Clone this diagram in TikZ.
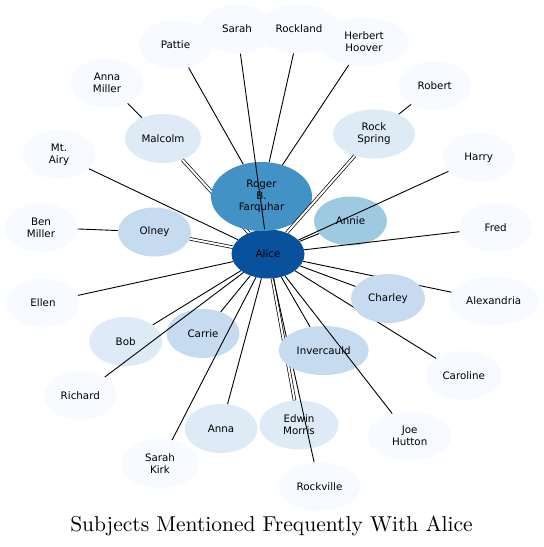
\documentclass[tikz,border=0pt]{standalone}
\usepackage{fontspec}
\newfontfamily\labelfont{DejaVu Sans}
\newfontfamily\titlefont{lmroman10-regular}[Extension=.otf]
\usepackage{xcolor}
\definecolor{wb}{HTML}{F7FBFF}
\definecolor{pb}{HTML}{DEEBF7}
\definecolor{lb}{HTML}{C6DBEF}
\definecolor{sb}{HTML}{9ECAE1}
\definecolor{mb}{HTML}{4292C6}
\definecolor{db}{HTML}{08519C}
\usepackage{tikz}
\usetikzlibrary{shapes.geometric}

\begin{document}
\begin{tikzpicture}[
  x=1pt,y=-1pt,
  subj/.style={ellipse,minimum width=73pt,minimum height=49pt,inner sep=0pt,align=center,font=\labelfont\fontsize{10.3}{11.8}\selectfont},
  link/.style={line width=0.9pt},
  twin/.style={line width=0.7pt,double,double distance=2pt}
]
  \useasboundingbox (0,0) rectangle (544,547);

  % outer ring
  \node[subj,fill=wb] (pattie) at (175.5,44.5) {Pattie};
  \node[subj,fill=wb] (sarah) at (237,29) {Sarah};
  \node[subj,fill=wb,minimum width=82pt] (rockland) at (299,29) {Rockland};
  \node[subj,fill=wb,minimum width=90pt] (hoover) at (364,42) {Herbert\\Hoover};
  \node[subj,fill=wb] (annamiller) at (107,83) {Anna\\Miller};
  \node[subj,fill=wb] (robert) at (434.7,85.5) {Robert};
  \node[subj,fill=wb] (mtairy) at (59,154.5) {Mt.\\Airy};
  \node[subj,fill=wb] (harry) at (478.7,157.5) {Harry};
  \node[subj,fill=wb] (benmiller) at (41,227.5) {Ben\\Miller};
  \node[subj,fill=wb] (fred) at (495.7,227.5) {Fred};
  \node[subj,fill=wb] (ellen) at (43,303) {Ellen};
  \node[subj,fill=wb,minimum width=90pt] (alexandria) at (493.7,301) {Alexandria};
  \node[subj,fill=wb] (richard) at (80.3,395.5) {Richard};
  \node[subj,fill=wb,minimum width=76pt] (caroline) at (463.7,375.5) {Caroline};
  \node[subj,fill=wb,minimum width=78pt] (sarahkirk) at (160,463.5) {Sarah\\Kirk};
  \node[subj,fill=wb,minimum width=84pt] (joehutton) at (409.7,436) {Joe\\Hutton};
  \node[subj,fill=wb,minimum width=82pt] (rockville) at (319.5,486.5) {Rockville};

  % inner ring
  \node[subj,fill=db] (alice) at (268,254) {Alice};
  \node[subj,fill=pb,minimum width=76pt] (malcolm) at (163,138.5) {Malcolm};
  \node[subj,fill=lb] (olney) at (154.5,232) {Olney};
  \node[subj,fill=pb,minimum width=82pt] (rockspring) at (374,134) {Rock\\Spring};
  \node[subj,fill=sb] (annie) at (350.5,221) {Annie};
  \node[subj,fill=pb] (bob) at (125.7,341.5) {Bob};
  \node[subj,fill=lb] (carrie) at (203,333.5) {Carrie};
  \node[subj,fill=pb] (anna) at (221,428.5) {Anna};
  \node[subj,fill=pb,minimum width=79pt] (edwin) at (299,425) {Edwin\\Morris};

  % these run under Roger, Charley and Invercauld
  \draw[twin] (malcolm) -- (alice);
  \draw[link] (caroline) -- (alice);
  \draw[link] (alexandria) -- (alice);
  \draw[twin] (edwin) -- (alice);
  \draw[link] (rockville) -- (alice);

  \node[subj,fill=mb,minimum width=101pt,minimum height=69pt] (roger) at (261.5,196.5) {Roger\\B.\\Farquhar};
  \node[subj,fill=lb,minimum width=74pt] (charley) at (388,298.5) {Charley};
  \node[subj,fill=lb,minimum width=90pt] (invercauld) at (323.7,350.5) {Invercauld};

  \draw[link] (pattie) -- (roger);
  \draw[link] (rockland) -- (roger);
  \draw[link] (hoover) -- (roger);
  \draw[link] (annamiller) -- (malcolm);
  \draw[link] (robert) -- (rockspring);
  \draw[link] (benmiller) -- (olney);
  \draw[link] (sarah) -- (alice);
  \draw[link] (mtairy) -- (alice);
  \draw[twin] (olney) -- (alice);
  \draw[twin] (rockspring) -- (alice);
  \draw[link] (annie) -- (alice);
  \draw[link] (harry) -- (alice);
  \draw[link] (fred) -- (alice);
  \draw[link] (charley) -- (alice);
  \draw[link] (ellen) -- (alice);
  \draw[link] (bob) -- (alice);
  \draw[link] (richard) -- (alice);
  \draw[link] (carrie) -- (alice);
  \draw[link] (sarahkirk) -- (alice);
  \draw[link] (anna) -- (alice);
  \draw[link] (invercauld) -- (alice);
  \draw[link] (joehutton) -- (alice);

  \node[anchor=base,font=\titlefont\fontsize{21.5}{25}\selectfont] (title) at (271.5,531.3) {Subjects Mentioned Frequently With Alice};
\end{tikzpicture}
\end{document}
